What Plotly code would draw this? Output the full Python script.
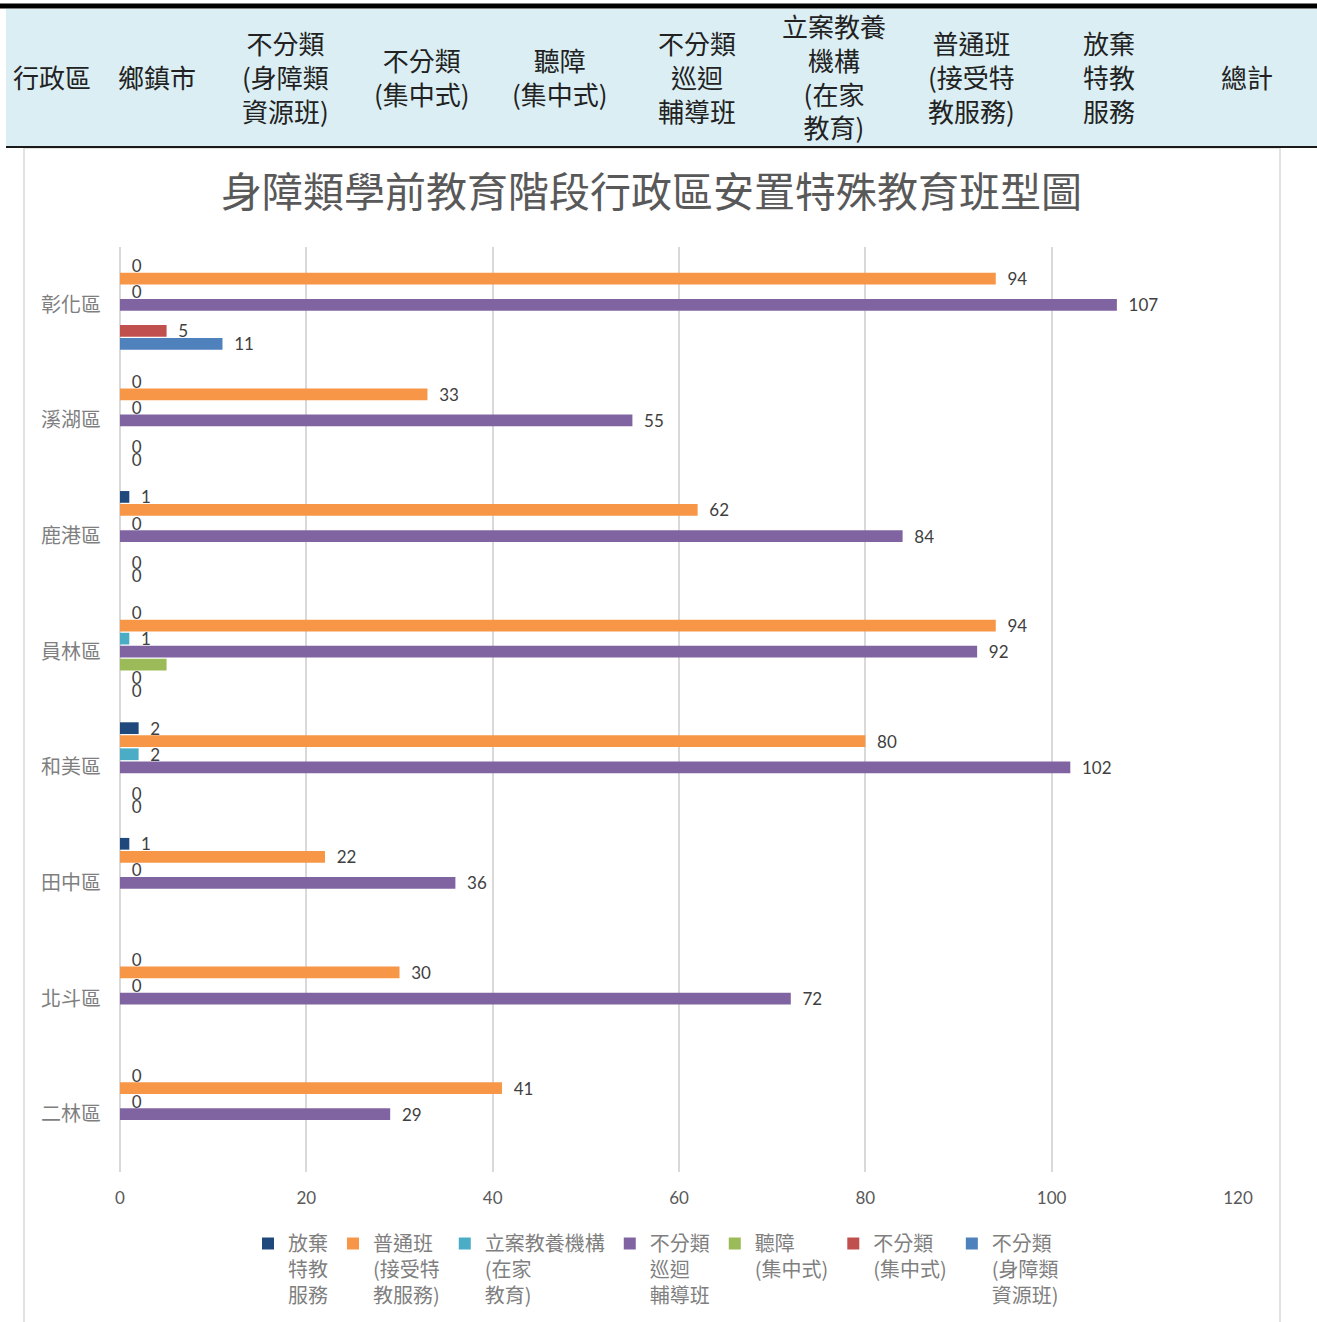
import plotly.graph_objects as go

# ---------------- data ----------------
categories = ["彰化區", "溪湖區", "鹿港區", "員林區", "和美區", "田中區", "北斗區", "二林區"]

series_names = [
    "放棄<br>特教<br>服務",
    "普通班<br>(接受特<br>教服務)",
    "立案教養機構<br>(在家<br>教育)",
    "不分類<br>巡迴<br>輔導班",
    "聽障<br>(集中式)",
    "不分類<br>(集中式)",
    "不分類<br>(身障類<br>資源班)",
]
abandon = [0, 0, 1, 0, 2, 1, 0, 0]
regular = [94, 33, 62, 94, 80, 22, 30, 41]
institution = [0, 0, 0, 1, 2, 0, 0, 0]
itinerant = [107, 55, 84, 92, 102, 36, 72, 29]
hearing = [0, 0, 0, 5, 0, None, None, None]
centralized = [5, 0, 0, 0, 0, None, None, None]
resource = [11, 0, 0, 0, 0, None, None, None]

series_values = [abandon, regular, institution, itinerant, hearing, centralized, resource]
series_colors = ["#1F497D", "#F79646", "#4BACC6", "#8064A2", "#9BBB59", "#C0504D", "#4F81BD"]
series_labels_on = [True, True, True, True, False, True, True]

header_labels = [
    "行政區", "鄉鎮市", "不分類<br>(身障類<br>資源班)", "不分類<br>(集中式)", "聽障<br>(集中式)",
    "不分類<br>巡迴<br>輔導班", "立案教養<br>機構<br>(在家<br>教育)", "普通班<br>(接受特<br>教服務)",
    "放棄<br>特教<br>服務", "總計",
]
header_x_px = [52, 157, 285, 422, 560, 697, 834, 971, 1109, 1247]

title_text = "身障類學前教育階段行政區安置特殊教育班型圖"
x_ticks = [0, 20, 40, 60, 80, 100, 120]

# ---------------- layout geometry (pixels) ----------------
# figure is slightly taller than the window so the bottom legend never
# pushes the plot margins; the overflow is hidden.
W, H = 1317, 1360
L, R, T, B = 120, 1238, 247, 1172
PW, PH = R - L, B - T


def px_x(px):
    return (px - L) / PW


def px_y(py):
    return 1 - (py - T) / PH


CJK = "Noto Sans CJK TC"
NUM = "Lato"

fig = go.Figure()
for name, vals, col, lab in zip(series_names, series_values, series_colors, series_labels_on):
    text = [("\u00a0\u00a0" + str(v)) if (lab and v is not None) else "" for v in vals]
    fig.add_trace(go.Bar(
        y=categories, x=vals, name=name, orientation="h",
        marker=dict(color=col, line=dict(width=0)),
        text=text, textposition="outside", cliponaxis=False,
        textfont=dict(family=NUM, size=17, color="#404040"),
        constraintext="none",
    ))

shapes = [
    # chart frame
    dict(type="rect", xref="paper", yref="paper",
         x0=px_x(24), x1=px_x(1280), y0=px_y(1345), y1=px_y(148),
         line=dict(color="#D9D9D9", width=1.5), fillcolor="white", layer="below"),
    # header band
    dict(type="rect", xref="paper", yref="paper",
         x0=px_x(6), x1=px_x(1317), y0=px_y(146), y1=px_y(9),
         line=dict(width=0), fillcolor="#DAEEF3", layer="below"),
    dict(type="line", xref="paper", yref="paper",
         x0=px_x(0), x1=px_x(1317), y0=px_y(6), y1=px_y(6),
         line=dict(color="#000000", width=5)),
    dict(type="line", xref="paper", yref="paper",
         x0=px_x(6), x1=px_x(1317), y0=px_y(147), y1=px_y(147),
         line=dict(color="#1a1a1a", width=2)),
]

annotations = [
    dict(text=t, x=px_x(xp), y=px_y(76), xref="paper", yref="paper",
         xanchor="center", yanchor="middle", showarrow=False, align="center",
         font=dict(family=CJK, size=26, color="#222222"))
    for t, xp in zip(header_labels, header_x_px)
]
annotations.append(dict(
    text=title_text, x=px_x(651), y=px_y(189), xref="paper", yref="paper",
    xanchor="center", yanchor="middle", showarrow=False,
    font=dict(family=CJK, size=41, color="#595959")))

fig.update_layout(
    width=W, height=H,
    margin=dict(l=L, r=W - R, t=T, b=H - B, pad=0),
    paper_bgcolor="white", plot_bgcolor="white",
    barmode="group", bargap=0.21, bargroupgap=0.1,
    shapes=shapes, annotations=annotations,
    showlegend=True,
    legend=dict(orientation="h", x=px_x(248), y=px_y(1224), xanchor="left", yanchor="top",
                font=dict(family=CJK, size=20, color="#7F7F7F"),
                valign="top", traceorder="normal", itemwidth=30,
                bgcolor="rgba(0,0,0,0)"),
    xaxis=dict(range=[0, 120], tickvals=x_ticks, ticktext=[str(v) for v in x_ticks],
               showgrid=True, gridcolor="#D9D9D9", gridwidth=1.5,
               zeroline=True, zerolinecolor="#D9D9D9", zerolinewidth=1.5,
               showline=False, ticks="", ticklabelstandoff=14,
               tickfont=dict(family=NUM, size=17, color="#595959")),
    yaxis=dict(autorange="reversed", categoryorder="array", categoryarray=categories,
               showgrid=False, zeroline=False, showline=False, ticks="",
               ticklabelstandoff=18,
               tickfont=dict(family=CJK, size=20, color="#7F7F7F")),
)

fig.write_html("out.html", config={"displayModeBar": False},
               post_script="document.body.style.margin='0px';document.body.style.overflow='hidden';")
